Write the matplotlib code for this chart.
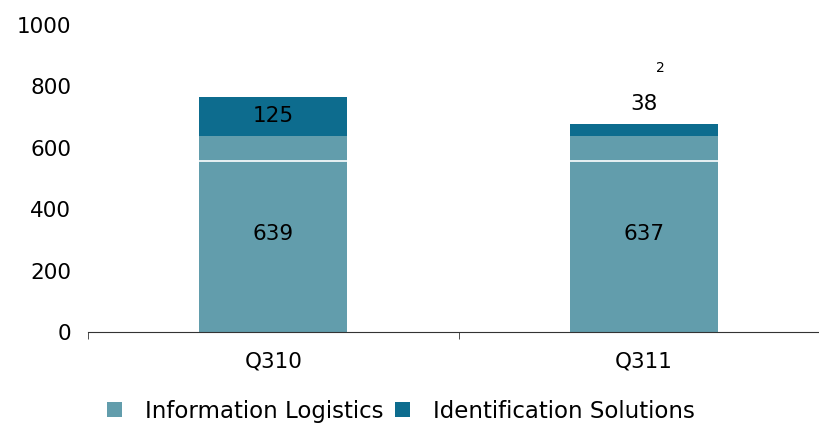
import matplotlib.pyplot as plt
from matplotlib.patches import Patch

categories = ["Q310", "Q311"]
info_logistics = [639, 637]
ident_solutions = [125, 38]
series_names = ["Information Logistics", "Identification Solutions"]
yticks = [0, 200, 400, 600, 800, 1000]

c_light = "#629DAC"
c_dark = "#0D6C8E"

fig = plt.figure(figsize=(8.2, 4.23), dpi=100)
ax = fig.add_axes([0.1073, 0.215, 0.9037, 0.727])

x = list(range(len(categories)))
ax.bar(x, info_logistics, width=0.40, color=c_light, zorder=2)
ax.bar(x, ident_solutions, width=0.40, bottom=info_logistics, color=c_dark, zorder=2)
ax.axhline(556, color="white", lw=1.2, zorder=3)

fs = 15.5
ax.set_xlim(-0.5, 1.5)
ax.set_ylim(0, 1000)
ax.set_yticks(yticks)
ax.set_yticklabels([str(v) for v in yticks], fontsize=fs)
ax.tick_params(axis="y", length=0, pad=12)

ax.set_xticks(x)
ax.set_xticklabels(categories, fontsize=fs)
ax.tick_params(axis="x", length=0, pad=14)
ax.set_xticks([-0.5, 0.5, 1.5], minor=True)
ax.tick_params(axis="x", which="minor", length=5, direction="out", color="#333333")

for s in ["left", "top", "right"]:
    ax.spines[s].set_visible(False)
ax.spines["bottom"].set_color("#333333")

# labels
ax.text(0, info_logistics[0] / 2, str(info_logistics[0]), ha="center", va="center", fontsize=fs, zorder=4)
ax.text(1, info_logistics[1] / 2, str(info_logistics[1]), ha="center", va="center", fontsize=fs, zorder=4)
ax.text(0, info_logistics[0] + ident_solutions[0] / 2, str(ident_solutions[0]), ha="center", va="center", fontsize=fs, zorder=4)
ax.text(1, info_logistics[1] + ident_solutions[1] + 66, str(ident_solutions[1]), ha="center", va="center", fontsize=fs, zorder=4)
ax.text(1.045, 858, "2", ha="center", va="center", fontsize=10, zorder=4)

handles = [Patch(facecolor=c_light, edgecolor="none"), Patch(facecolor=c_dark, edgecolor="none")]
fig.legend(handles, series_names, loc="center", bbox_to_anchor=(0.489, 0.028), ncol=2,
           frameon=False, fontsize=16.5, handlelength=0.63, handleheight=0.63,
           handletextpad=1.0, columnspacing=0.52, borderpad=0.2)

fig.savefig("out.png", dpi=100)
